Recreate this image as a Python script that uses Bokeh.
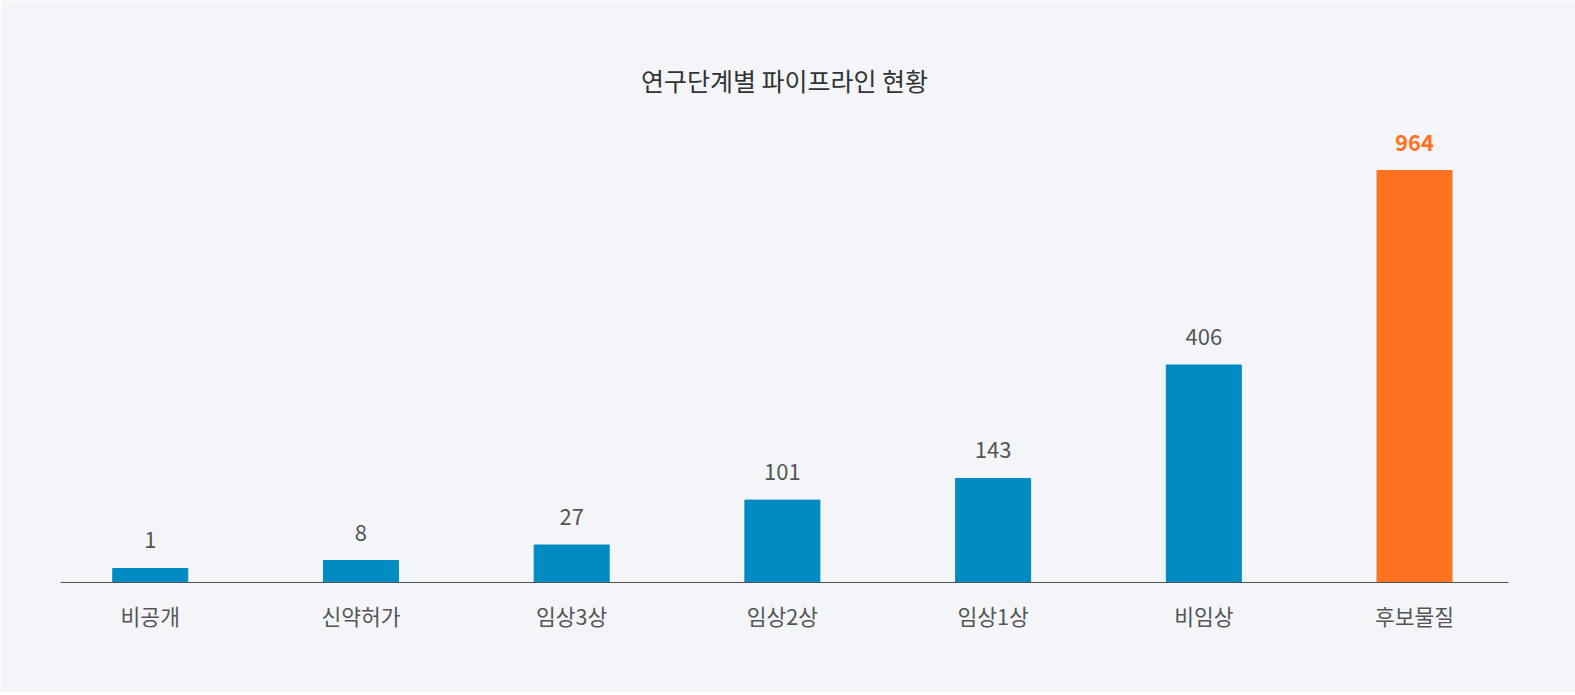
from bokeh.plotting import figure
from bokeh.models import ColumnDataSource, Range1d, FixedTicker, CustomJSTransform
from bokeh.transform import transform
from bokeh.core.properties import value
from bokeh.embed import file_html
from bokeh.resources import INLINE

# ---- data ----
categories = ["비공개", "신약허가", "임상3상", "임상2상", "임상1상", "비임상", "후보물질"]
counts = [1, 8, 27, 101, 143, 406, 964]
highlight = "후보물질"
title_text = "연구단계별 파이프라인 현황"

BLUE = "#008bc2"
ORANGE = "#ff7221"
BG = "#f3f5f9"
FONT = "Noto Sans CJK KR"

idx = list(range(len(categories)))
colors = [ORANGE if c == highlight else BLUE for c in categories]

src = ColumnDataSource(dict(x=idx, cat=categories, v=counts, color=colors))
hi = [i for i, c in enumerate(categories) if c == highlight]
lo = [i for i, c in enumerate(categories) if c != highlight]
src_lo = ColumnDataSource(dict(x=[idx[i] for i in lo], v=[counts[i] for i in lo],
                               label=[str(counts[i]) for i in lo]))
src_hi = ColumnDataSource(dict(x=[idx[i] for i in hi], v=[counts[i] for i in hi],
                               label=[str(counts[i]) for i in hi]))

# compressed (power) value scale, as in the infographic
scale = CustomJSTransform(v_func="return xs.map(v => 11.985 + 2.0152*Math.pow(v, 0.77))")

p = figure(width=1575, height=692, output_backend="svg", toolbar_location=None,
           x_range=Range1d(-0.426, 6.446), y_range=Range1d(0, 454),
           min_border_left=60, min_border_right=67, min_border_top=128, min_border_bottom=110)

p.vbar(x="x", top=transform("v", scale), bottom=0, width=0.356, color="color", source=src)

p.text(x="x", y=transform("v", scale), text="label", source=src_lo, y_offset=-28,
       text_align="center", text_baseline="alphabetic", text_color="#555555",
       text_font=value(FONT), text_font_size="22px")
p.text(x="x", y=transform("v", scale), text="label", source=src_hi, y_offset=-28,
       text_align="center", text_baseline="alphabetic", text_color=ORANGE,
       text_font=value(FONT), text_font_size="22px", text_font_style="bold")

p.title.text = title_text
p.title.align = "center"
p.title.text_font = FONT
p.title.text_font_size = "25px"
p.title.text_font_style = "normal"
p.title.text_color = "#333333"
p.title.standoff = 62

p.yaxis.visible = False
p.xgrid.visible = False
p.ygrid.visible = False
p.outline_line_color = None
p.background_fill_color = BG
p.border_fill_color = BG

ax = p.xaxis[0]
ax.ticker = FixedTicker(ticks=idx)
ax.major_label_overrides = {i: c for i, c in zip(idx, categories)}
ax.major_tick_line_color = None
ax.minor_tick_line_color = None
ax.axis_line_color = "#555555"
ax.axis_line_width = 1
ax.major_label_text_font = FONT
ax.major_label_text_font_size = "21.5px"
ax.major_label_text_color = "#555555"
ax.major_label_standoff = 11

html = file_html(p, INLINE)
html = html.replace("<body>", '<body style="background:%s">' % BG, 1)
open("out.html", "w").write(html)
